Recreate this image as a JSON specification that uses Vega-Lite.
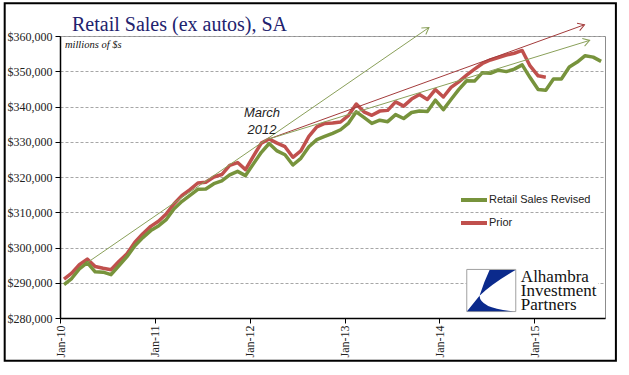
{
  "$schema": "https://vega.github.io/schema/vega-lite/v6.json",
  "width": 545,
  "height": 282,
  "autosize": {"type": "none"},
  "padding": {"left": 60, "top": 36, "right": 24, "bottom": 57},
  "background": "white",
  "title": {"text": "Retail Sales (ex autos), SA", "anchor": "start", "frame": "group", "font": "Liberation Serif", "fontSize": 20, "fontWeight": "normal", "color": "#22226E", "offset": -48.5, "dx": 12, "baseline": "alphabetic"},
  "config": {
    "view": {"stroke": "#8C8C8C", "strokeWidth": 1},
    "axis": {"labelFont": "Liberation Serif", "labelFontSize": 12, "labelColor": "#222", "domainColor": "#000", "domainWidth": 1.5, "tickColor": "#000", "tickSize": 5, "title": null, "labelOverlap": false}
  },
  "datasets": {
    "sales": [
      {"series": "Prior", "date": "2010-01-01", "value": 291000},
      {"series": "Prior", "date": "2010-02-01", "value": 292700},
      {"series": "Prior", "date": "2010-03-01", "value": 295100},
      {"series": "Prior", "date": "2010-04-01", "value": 296700},
      {"series": "Prior", "date": "2010-05-01", "value": 294600},
      {"series": "Prior", "date": "2010-06-01", "value": 294100},
      {"series": "Prior", "date": "2010-07-01", "value": 293700},
      {"series": "Prior", "date": "2010-08-01", "value": 296100},
      {"series": "Prior", "date": "2010-09-01", "value": 298200},
      {"series": "Prior", "date": "2010-10-01", "value": 301500},
      {"series": "Prior", "date": "2010-11-01", "value": 303900},
      {"series": "Prior", "date": "2010-12-01", "value": 306000},
      {"series": "Prior", "date": "2011-01-01", "value": 307500},
      {"series": "Prior", "date": "2011-02-01", "value": 309600},
      {"series": "Prior", "date": "2011-03-01", "value": 312400},
      {"series": "Prior", "date": "2011-04-01", "value": 314800},
      {"series": "Prior", "date": "2011-05-01", "value": 316400},
      {"series": "Prior", "date": "2011-06-01", "value": 318300},
      {"series": "Prior", "date": "2011-07-01", "value": 318500},
      {"series": "Prior", "date": "2011-08-01", "value": 320000},
      {"series": "Prior", "date": "2011-09-01", "value": 320700},
      {"series": "Prior", "date": "2011-10-01", "value": 323300},
      {"series": "Prior", "date": "2011-11-01", "value": 324100},
      {"series": "Prior", "date": "2011-12-01", "value": 322100},
      {"series": "Prior", "date": "2012-01-01", "value": 326000},
      {"series": "Prior", "date": "2012-02-01", "value": 329600},
      {"series": "Prior", "date": "2012-03-01", "value": 330800},
      {"series": "Prior", "date": "2012-04-01", "value": 329600},
      {"series": "Prior", "date": "2012-05-01", "value": 328600},
      {"series": "Prior", "date": "2012-06-01", "value": 325600},
      {"series": "Prior", "date": "2012-07-01", "value": 327400},
      {"series": "Prior", "date": "2012-08-01", "value": 331500},
      {"series": "Prior", "date": "2012-09-01", "value": 334200},
      {"series": "Prior", "date": "2012-10-01", "value": 335200},
      {"series": "Prior", "date": "2012-11-01", "value": 335300},
      {"series": "Prior", "date": "2012-12-01", "value": 335600},
      {"series": "Prior", "date": "2013-01-01", "value": 337500},
      {"series": "Prior", "date": "2013-02-01", "value": 340700},
      {"series": "Prior", "date": "2013-03-01", "value": 338500},
      {"series": "Prior", "date": "2013-04-01", "value": 337500},
      {"series": "Prior", "date": "2013-05-01", "value": 338700},
      {"series": "Prior", "date": "2013-06-01", "value": 338900},
      {"series": "Prior", "date": "2013-07-01", "value": 341300},
      {"series": "Prior", "date": "2013-08-01", "value": 340100},
      {"series": "Prior", "date": "2013-09-01", "value": 342100},
      {"series": "Prior", "date": "2013-10-01", "value": 343400},
      {"series": "Prior", "date": "2013-11-01", "value": 342000},
      {"series": "Prior", "date": "2013-12-01", "value": 344800},
      {"series": "Prior", "date": "2014-01-01", "value": 342700},
      {"series": "Prior", "date": "2014-02-01", "value": 345400},
      {"series": "Prior", "date": "2014-03-01", "value": 347000},
      {"series": "Prior", "date": "2014-04-01", "value": 348900},
      {"series": "Prior", "date": "2014-05-01", "value": 350600},
      {"series": "Prior", "date": "2014-06-01", "value": 352200},
      {"series": "Prior", "date": "2014-07-01", "value": 353200},
      {"series": "Prior", "date": "2014-08-01", "value": 353900},
      {"series": "Prior", "date": "2014-09-01", "value": 354600},
      {"series": "Prior", "date": "2014-10-01", "value": 355100},
      {"series": "Prior", "date": "2014-11-01", "value": 355900},
      {"series": "Prior", "date": "2014-12-01", "value": 351500},
      {"series": "Prior", "date": "2015-01-01", "value": 348700},
      {"series": "Prior", "date": "2015-02-01", "value": 348300},
      {"series": "Retail Sales Revised", "date": "2010-01-01", "value": 289500},
      {"series": "Retail Sales Revised", "date": "2010-02-01", "value": 291200},
      {"series": "Retail Sales Revised", "date": "2010-03-01", "value": 293900},
      {"series": "Retail Sales Revised", "date": "2010-04-01", "value": 295700},
      {"series": "Retail Sales Revised", "date": "2010-05-01", "value": 293100},
      {"series": "Retail Sales Revised", "date": "2010-06-01", "value": 293000},
      {"series": "Retail Sales Revised", "date": "2010-07-01", "value": 292300},
      {"series": "Retail Sales Revised", "date": "2010-08-01", "value": 294900},
      {"series": "Retail Sales Revised", "date": "2010-09-01", "value": 297400},
      {"series": "Retail Sales Revised", "date": "2010-10-01", "value": 300500},
      {"series": "Retail Sales Revised", "date": "2010-11-01", "value": 302800},
      {"series": "Retail Sales Revised", "date": "2010-12-01", "value": 304800},
      {"series": "Retail Sales Revised", "date": "2011-01-01", "value": 306200},
      {"series": "Retail Sales Revised", "date": "2011-02-01", "value": 308000},
      {"series": "Retail Sales Revised", "date": "2011-03-01", "value": 311000},
      {"series": "Retail Sales Revised", "date": "2011-04-01", "value": 313100},
      {"series": "Retail Sales Revised", "date": "2011-05-01", "value": 314800},
      {"series": "Retail Sales Revised", "date": "2011-06-01", "value": 316500},
      {"series": "Retail Sales Revised", "date": "2011-07-01", "value": 316600},
      {"series": "Retail Sales Revised", "date": "2011-08-01", "value": 318100},
      {"series": "Retail Sales Revised", "date": "2011-09-01", "value": 318900},
      {"series": "Retail Sales Revised", "date": "2011-10-01", "value": 320600},
      {"series": "Retail Sales Revised", "date": "2011-11-01", "value": 321600},
      {"series": "Retail Sales Revised", "date": "2011-12-01", "value": 320400},
      {"series": "Retail Sales Revised", "date": "2012-01-01", "value": 323800},
      {"series": "Retail Sales Revised", "date": "2012-02-01", "value": 327000},
      {"series": "Retail Sales Revised", "date": "2012-03-01", "value": 329500},
      {"series": "Retail Sales Revised", "date": "2012-04-01", "value": 327400},
      {"series": "Retail Sales Revised", "date": "2012-05-01", "value": 326300},
      {"series": "Retail Sales Revised", "date": "2012-06-01", "value": 323400},
      {"series": "Retail Sales Revised", "date": "2012-07-01", "value": 325300},
      {"series": "Retail Sales Revised", "date": "2012-08-01", "value": 328600},
      {"series": "Retail Sales Revised", "date": "2012-09-01", "value": 330600},
      {"series": "Retail Sales Revised", "date": "2012-10-01", "value": 331500},
      {"series": "Retail Sales Revised", "date": "2012-11-01", "value": 332400},
      {"series": "Retail Sales Revised", "date": "2012-12-01", "value": 333400},
      {"series": "Retail Sales Revised", "date": "2013-01-01", "value": 335300},
      {"series": "Retail Sales Revised", "date": "2013-02-01", "value": 338500},
      {"series": "Retail Sales Revised", "date": "2013-03-01", "value": 336900},
      {"series": "Retail Sales Revised", "date": "2013-04-01", "value": 335200},
      {"series": "Retail Sales Revised", "date": "2013-05-01", "value": 336100},
      {"series": "Retail Sales Revised", "date": "2013-06-01", "value": 335700},
      {"series": "Retail Sales Revised", "date": "2013-07-01", "value": 337700},
      {"series": "Retail Sales Revised", "date": "2013-08-01", "value": 336600},
      {"series": "Retail Sales Revised", "date": "2013-09-01", "value": 338300},
      {"series": "Retail Sales Revised", "date": "2013-10-01", "value": 338700},
      {"series": "Retail Sales Revised", "date": "2013-11-01", "value": 338600},
      {"series": "Retail Sales Revised", "date": "2013-12-01", "value": 341800},
      {"series": "Retail Sales Revised", "date": "2014-01-01", "value": 339100},
      {"series": "Retail Sales Revised", "date": "2014-02-01", "value": 342000},
      {"series": "Retail Sales Revised", "date": "2014-03-01", "value": 344800},
      {"series": "Retail Sales Revised", "date": "2014-04-01", "value": 347300},
      {"series": "Retail Sales Revised", "date": "2014-05-01", "value": 347200},
      {"series": "Retail Sales Revised", "date": "2014-06-01", "value": 349600},
      {"series": "Retail Sales Revised", "date": "2014-07-01", "value": 349400},
      {"series": "Retail Sales Revised", "date": "2014-08-01", "value": 350300},
      {"series": "Retail Sales Revised", "date": "2014-09-01", "value": 349900},
      {"series": "Retail Sales Revised", "date": "2014-10-01", "value": 350600},
      {"series": "Retail Sales Revised", "date": "2014-11-01", "value": 351800},
      {"series": "Retail Sales Revised", "date": "2014-12-01", "value": 348200},
      {"series": "Retail Sales Revised", "date": "2015-01-01", "value": 344800},
      {"series": "Retail Sales Revised", "date": "2015-02-01", "value": 344600},
      {"series": "Retail Sales Revised", "date": "2015-03-01", "value": 347800},
      {"series": "Retail Sales Revised", "date": "2015-04-01", "value": 347800},
      {"series": "Retail Sales Revised", "date": "2015-05-01", "value": 351200},
      {"series": "Retail Sales Revised", "date": "2015-06-01", "value": 352600},
      {"series": "Retail Sales Revised", "date": "2015-07-01", "value": 354400},
      {"series": "Retail Sales Revised", "date": "2015-08-01", "value": 354000},
      {"series": "Retail Sales Revised", "date": "2015-09-01", "value": 352800}
    ],
    "arrows": [
      {"arrow": "A", "point": "start", "date": "2010-04-16", "value": 295700},
      {"arrow": "A", "point": "end", "date": "2013-11-22", "value": 362400},
      {"arrow": "B", "point": "start", "date": "2012-03-16", "value": 330800},
      {"arrow": "B", "point": "end", "date": "2015-07-14", "value": 363200},
      {"arrow": "C", "point": "start", "date": "2012-03-16", "value": 330800},
      {"arrow": "C", "point": "end", "date": "2015-08-03", "value": 358750}
    ],
    "one": [{}]
  },
  "layer": [
    {
      "data": {"name": "sales"},
      "mark": {"type": "line", "strokeWidth": 3.5, "strokeJoin": "round"},
      "encoding": {
        "x": {
          "field": "date", "timeUnit": "utcyearmonth", "bandPosition": 0.5, "type": "temporal",
          "scale": {"type": "utc", "domain": [{"year": 2010, "month": 1, "date": 1, "utc": true}, {"year": 2015, "month": 10, "date": 1, "utc": true}], "nice": false},
          "axis": {
            "values": [
              {"year": 2010, "month": 1, "date": 1, "utc": true},
              {"year": 2011, "month": 1, "date": 1, "utc": true},
              {"year": 2012, "month": 1, "date": 1, "utc": true},
              {"year": 2013, "month": 1, "date": 1, "utc": true},
              {"year": 2014, "month": 1, "date": 1, "utc": true},
              {"year": 2015, "month": 1, "date": 1, "utc": true}
            ],
            "format": "%b-%y", "labelAngle": 270, "labelAlign": "right", "labelBaseline": "middle", "labelPadding": 2, "grid": false
          }
        },
        "y": {
          "field": "value", "type": "quantitative",
          "scale": {"domain": [280000, 360000], "nice": false, "zero": false},
          "axis": {"values": [280000, 290000, 300000, 310000, 320000, 330000, 340000, 350000, 360000], "tickCount": 9, "format": "$,.0f", "grid": true, "gridDash": [3, 2], "gridColor": "#A6A6A6", "labelPadding": 3}
        },
        "color": {
          "field": "series", "type": "nominal",
          "scale": {"domain": ["Retail Sales Revised", "Prior"], "range": ["#77933C", "#C0504D"]},
          "legend": {"orient": "none", "legendX": 399, "legendY": 149, "title": null, "symbolType": "stroke", "symbolSize": 676, "symbolStrokeWidth": 4, "labelFont": "Liberation Sans", "labelFontSize": 11, "labelColor": "#222", "labelOffset": 0, "rowPadding": -12, "padding": 0}
        }
      }
    },
    {
      "data": {"name": "one"},
      "mark": {"type": "rect", "fill": "white"},
      "encoding": {
        "x": {"datum": {"year": 2014, "month": 4, "date": 16, "utc": true}, "type": "temporal"},
        "x2": {"datum": {"year": 2015, "month": 9, "date": 4, "utc": true}},
        "y": {"datum": 294300, "type": "quantitative"},
        "y2": {"datum": 281500}
      }
    },
    {
      "data": {"name": "arrows"},
      "transform": [{"filter": "datum.arrow === 'A'"}],
      "mark": {"type": "line", "color": "#8AA05A", "strokeWidth": 1},
      "encoding": {"x": {"field": "date", "type": "temporal"}, "y": {"field": "value", "type": "quantitative"}}
    },
    {
      "data": {"name": "arrows"},
      "transform": [{"filter": "datum.arrow === 'B'"}],
      "mark": {"type": "line", "color": "#A33B3B", "strokeWidth": 1},
      "encoding": {"x": {"field": "date", "type": "temporal"}, "y": {"field": "value", "type": "quantitative"}}
    },
    {
      "data": {"name": "arrows"},
      "transform": [{"filter": "datum.arrow === 'C'"}],
      "mark": {"type": "line", "color": "#8AA05A", "strokeWidth": 1},
      "encoding": {"x": {"field": "date", "type": "temporal"}, "y": {"field": "value", "type": "quantitative"}}
    },
    {
      "data": {"name": "arrows"},
      "transform": [{"filter": "datum.arrow === 'A' && datum.point === 'end'"}],
      "mark": {"type": "point", "shape": "M-1,-0.6L0,0L-1,0.6", "filled": false, "color": "#8AA05A", "strokeWidth": 1, "size": 170, "angle": 325.4, "opacity": 1},
      "encoding": {"x": {"field": "date", "type": "temporal"}, "y": {"field": "value", "type": "quantitative"}}
    },
    {
      "data": {"name": "arrows"},
      "transform": [{"filter": "datum.arrow === 'B' && datum.point === 'end'"}],
      "mark": {"type": "point", "shape": "M-1,-0.6L0,0L-1,0.6", "filled": false, "color": "#A33B3B", "strokeWidth": 1, "size": 170, "angle": 340.1, "opacity": 1},
      "encoding": {"x": {"field": "date", "type": "temporal"}, "y": {"field": "value", "type": "quantitative"}}
    },
    {
      "data": {"name": "arrows"},
      "transform": [{"filter": "datum.arrow === 'C' && datum.point === 'end'"}],
      "mark": {"type": "point", "shape": "M-1,-0.6L0,0L-1,0.6", "filled": false, "color": "#8AA05A", "strokeWidth": 1, "size": 170, "angle": 342.9, "opacity": 1},
      "encoding": {"x": {"field": "date", "type": "temporal"}, "y": {"field": "value", "type": "quantitative"}}
    },
    {
      "data": {"name": "one"},
      "mark": {"type": "text", "text": "millions of $s", "font": "Liberation Serif", "fontStyle": "italic", "fontSize": 10.5, "align": "left", "baseline": "middle", "color": "#111"},
      "encoding": {
        "x": {"datum": {"year": 2010, "month": 1, "date": 20, "utc": true}, "type": "temporal"},
        "y": {"datum": 357400, "type": "quantitative"}
      }
    },
    {
      "data": {"name": "one"},
      "mark": {"type": "text", "text": "March\n2012", "lineBreak": "\n", "lineHeight": 17, "font": "Liberation Sans", "fontStyle": "italic", "fontSize": 13, "align": "center", "baseline": "middle", "color": "#222"},
      "encoding": {
        "x": {"datum": {"year": 2012, "month": 2, "date": 18, "utc": true}, "type": "temporal"},
        "y": {"datum": 338200, "type": "quantitative"}
      }
    },
    {
      "data": {"name": "one"},
      "mark": {"type": "point", "shape": "M-1,-0.86L1,-0.86L1,0.86L-1,0.86Z", "filled": true, "fill": "white", "stroke": "#A0A0A0", "strokeWidth": 1, "size": 2401, "opacity": 1},
      "encoding": {
        "x": {"datum": {"year": 2014, "month": 7, "date": 20, "utc": true}, "type": "temporal"},
        "y": {"datum": 287800, "type": "quantitative"}
      }
    },
    {
      "data": {"name": "one"},
      "mark": {"type": "point", "shape": "M-0.07,-0.84L0.99,-0.84Q0.05,-0.3 -0.48,0.21Q-0.3,-0.35 -0.07,-0.84Z M-0.48,0.21L-0.99,0.85L0.89,0.85Q-0.45,0.72 -0.48,0.21Z", "filled": true, "fill": "#0B2A8C", "strokeWidth": 0, "size": 2401, "opacity": 1},
      "encoding": {
        "x": {"datum": {"year": 2014, "month": 7, "date": 20, "utc": true}, "type": "temporal"},
        "y": {"datum": 287800, "type": "quantitative"}
      }
    },
    {
      "data": {"name": "one"},
      "mark": {"type": "text", "text": "Alhambra\nInvestment\nPartners", "lineBreak": "\n", "lineHeight": 14, "font": "Liberation Serif", "fontSize": 17, "align": "left", "baseline": "alphabetic", "color": "#111"},
      "encoding": {
        "x": {"datum": {"year": 2014, "month": 11, "date": 11, "utc": true}, "type": "temporal"},
        "y": {"datum": 290200, "type": "quantitative"}
      }
    },
    {
      "data": {"name": "one"},
      "mark": {"type": "rect", "filled": false, "stroke": "#000", "strokeWidth": 2},
      "encoding": {
        "x": {"datum": {"year": 2009, "month": 6, "date": 2, "utc": true}, "type": "temporal"},
        "x2": {"datum": {"year": 2015, "month": 11, "date": 12, "utc": true}},
        "y": {"datum": 369300, "type": "quantitative"},
        "y2": {"datum": 267900}
      }
    }
  ]
}
